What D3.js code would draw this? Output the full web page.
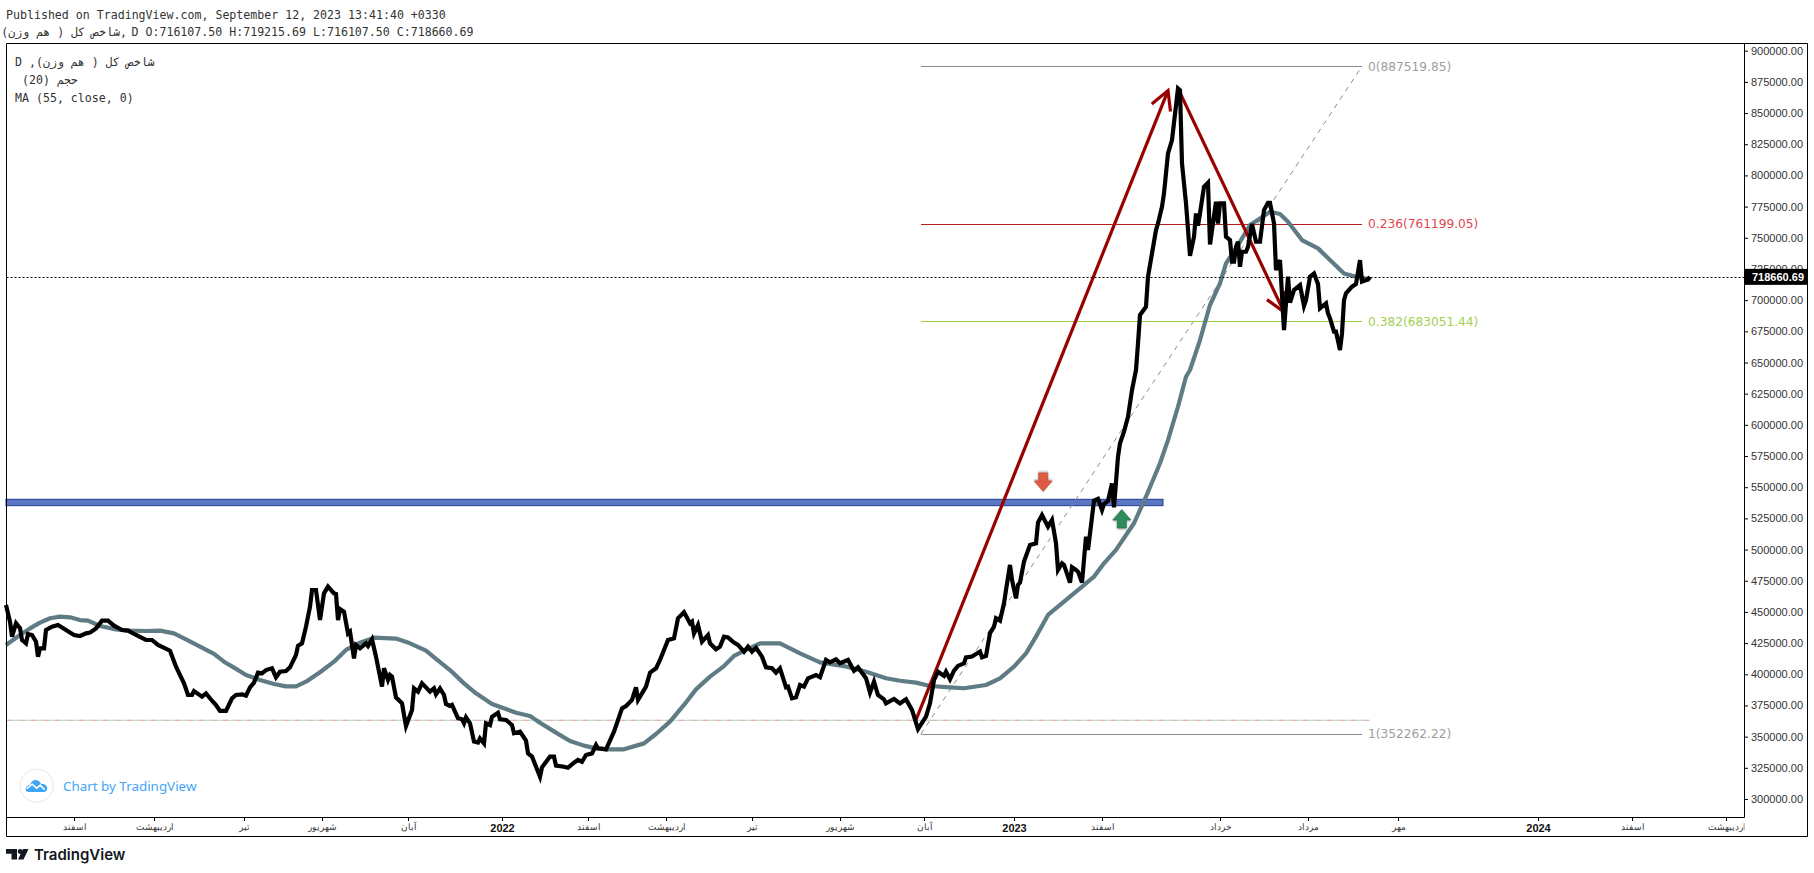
<!DOCTYPE html>
<html>
<head>
<meta charset="utf-8">
<title>chart</title>
<script src="https://cdn.jsdelivr.net/npm/d3@7/dist/d3.min.js"></script>
<style>
  html, body { margin: 0; padding: 0; background: #fff; }
  svg { display: block; }
  .mono { font-family: "DejaVu Sans Mono", monospace; font-size: 11.6px; fill: #333; }
  .yaxis text { font-family: "Liberation Sans", Arial, sans-serif; font-size: 11px; fill: #333; }
  .xaxis text { font-family: "Liberation Sans", Arial, sans-serif; font-size: 8.5px; fill: #333; }
  .xaxis text.year { font-size: 11px; font-weight: bold; fill: #111; }
  .fib { font-family: "DejaVu Sans", sans-serif; font-size: 12.2px; }
</style>
</head>
<body>
<div id="chart"></div>
<script>
// price line, bar number + value
var priceBars = [0,2,3,5,7,8,10,11,13,15,16,17,19,20,23,26,30,34,37,40,42,45,48,51,54,58,61,65,70,73,76,82,85,89,91,93,94,98,100,103,105,107,110,113,115,118,120,122,124,126,128,130,133,135,137,140,142,145,146,148,150,152,153,155,157,159,161,164,165,166,167,169,171,172,174,175,177,180,181,183,185,188,189,191,192,193,195,198,200,203,204,206,208,210,212,214,215,217,219,220,222,223,226,228,229,230,232,234,236,237,239,240,242,243,246,247,250,253,254,257,260,261,263,267,268,272,274,275,279,281,284,286,288,290,293,295,296,300,304,308,310,313,315,316,320,322,325,327,331,334,336,339,342,343,344,346,348,351,352,355,357,359,361,364,366,369,371,373,375,378,380,383,385,387,390,391,393,395,397,399,401,405,407,410,412,415,417,421,424,426,430,432,434,436,439,440,444,447,450,453,456,460,462,464,466,469,470,472,474,476,479,480,483,487,488,490,492,494,495,497,499,500,502,503,505,506,507,509,512,515,516,518,521,523,525,526,528,529,532,533,535,536,538,540,541,544,546,548,549,551,553,554,556,557,559,561,563,565,566,567,570,571,573,575,576,578,579,581,583,586,587,588,590,592,594,595,596,597,599,601,602,605,606,607,609,610,612,613,614,615,616,617,618,620,621,623,625,627,629,631,632,634,635,637,639,641,642,644,647,649,650,652,654,656,657,660,661,662,664,665,667,668,669,670,673,675,677,678,681,682];
var priceValues = [455600,442200,430200,440900,436900,427500,424800,432300,431500,426200,414100,420800,420800,435500,438200,439500,435500,431500,430700,432800,433400,436800,443000,443000,439000,435500,435000,431500,427500,427500,423500,418900,406100,392700,383400,383400,386600,382100,384700,378800,375400,370600,370600,380700,383400,383900,382900,389500,393300,401300,400800,403400,404800,397600,402100,402600,405600,415500,422900,424800,438200,454200,467600,467600,443500,464900,470300,464900,464400,443500,452300,450200,432800,434200,412800,423500,420800,424800,422700,428000,414100,390100,404800,395400,399400,398100,381500,376700,358500,371400,388700,386100,392700,389500,386100,388700,383900,388700,383400,376200,374600,375400,364700,363900,360700,365500,360700,346000,345200,348600,344600,360700,359300,366000,369200,363900,363400,359300,352700,354000,346800,336600,334000,317900,325400,334000,334000,326700,325900,325100,329100,331300,329900,335300,336600,343300,340600,339800,354000,372700,374600,379400,389500,379400,390100,401300,404800,411500,427500,428800,444900,449700,440900,442200,432800,439500,426200,431500,424800,420000,422100,430200,429600,425400,423500,418100,422100,418100,421300,414100,405600,404800,401300,404800,389500,390100,380700,381500,391400,390100,396800,399400,397600,411500,409600,412000,408800,411500,402900,405600,396800,385300,394100,383400,379900,376700,380200,376700,379900,371400,356000,366000,376700,395400,402100,398700,402100,396000,402900,406700,408800,413600,414200,418200,413600,414700,432900,438200,444900,443000,456900,467600,487700,475600,460900,471600,473500,490300,503700,505000,521600,527700,518400,523700,505000,483600,489000,487700,473500,485800,483600,482300,473500,510400,499700,539200,540600,531700,536600,539000,553100,533900,574500,585200,594600,606500,627900,644000,665300,688000,694700,718800,737500,756200,761500,774900,785600,817700,828400,869800,868400,809600,777600,735600,750900,769600,759700,769600,791000,794200,744700,778900,761500,777600,777600,750900,748200,730800,730800,742800,746800,726800,738800,738800,742800,761000,746800,746800,772200,778100,778100,761500,724100,732100,676000,718800,698000,708100,712100,695300,700100,718800,721400,712900,693400,697400,689400,685400,674700,674700,660000,673300,700100,705400,710800,712900,732100,714800,716600,718660.69];

// MA (55, close, 0)
var maBars = [0,7,12,17,22,27,32,37,41,47,55,62,70,77,84,90,97,104,109,114,120,127,134,140,145,150,157,164,170,177,184,195,202,210,215,222,229,235,243,250,255,262,267,275,282,289,295,302,309,319,325,332,339,345,352,359,364,370,377,387,397,407,419,430,440,447,455,462,472,479,490,497,504,510,515,521,529,537,544,549,555,564,570,577,581,584,586,590,592,597,602,607,610,615,622,627,632,637,641,648,656,662,669,675,682];
var maValues = [423500,431500,436800,441400,444900,446200,445700,443500,443000,438700,436000,435000,434700,435000,432800,428000,422100,416300,410100,405300,399400,395400,392200,390300,390300,394100,401600,410100,419500,425400,429400,428600,424800,418900,412300,403400,392700,384700,376200,372200,369200,366600,361200,353200,346500,342800,340600,339800,339800,344600,352100,362000,375400,387900,398100,406600,414700,419500,424800,424800,416800,409600,406600,402100,396800,394800,393300,390600,389500,388800,391400,396800,406100,416800,430200,447600,458300,468900,478300,489000,499700,521100,542400,569200,587800,603900,614500,638600,644000,668000,696100,713400,729500,741500,760200,765500,770900,769000,762900,748200,741500,732100,721400,718800,716600];

// the flat pink/green line
var flatBars = [0, 682];
var flatValue = 363100;

var lastPrice = 718660.69;

// fib retracement tool
var fibLevels = [0, 0.236, 0.382, 1];
var fibPrices = [887519.85, 761199.05, 683051.44, 352262.22];
var fibStroke = ["#8a8a8a", "#b71c1c", "#9ccc44", "#8a8a8a"];
var fibText = ["#9e9e9e", "#e0474c", "#a5cf52", "#9e9e9e"];
var fibBars = [457.5, 678];

// horizontal zone
var zoneBars = [0, 578.5];
var zoneValues = [535200, 540300];

// big red arrows, from -> tip
var upArrowBars = [455, 581];
var upArrowValues = [363500, 868000];
var downArrowBars = [586.5, 639];
var downArrowValues = [868000, 690500];

// the two little signs
var signDownBar = 518.6, signDownValue = 554200;
var signUpBar = 557.9, signUpValue = 524500;

var yTicks = d3.range(300000, 900001, 25000);

var xTickBars = [34,74,119,158,201,248,291,330,373,417,459,504,548,607,651,696,766,813,860];
var xTickLabels = ["اسفند","اردیبهشت","تیر","شهریور","آبان","2022","اسفند","اردیبهشت","تیر","شهریور","آبان","2023","اسفند","خرداد","مرداد","مهر","2024","اسفند","اردیبهشت"];

var width = 1814;
var height = 873;
var plotLeft = 6.5, plotRight = 1744.5, plotTop = 43.5, plotBottom = 817.5;
var frameRight = 1807.5, frameBottom = 836.5;

var svg = d3.select("#chart").append("svg")
    .attr("width", width)
    .attr("height", height);

var x = d3.scaleLinear().domain([0, 869]).range([6, 1744]);
var y = d3.scaleLinear().domain([300000, 900000]).range([799, 50.7]);

// the clip sits in the axis group's own coordinates
var defs = svg.append("defs");
defs.append("clipPath").attr("id", "xclip").append("rect")
    .attr("x", 0).attr("y", -1).attr("width", plotRight).attr("height", 20);

// header text
svg.append("text").attr("class", "mono").attr("x", 6).attr("y", 19)
    .text("Published on TradingView.com, September 12, 2023 13:41:40 +0330");
svg.append("text").attr("class", "mono").attr("x", 127).attr("y", 36)
    .attr("text-anchor", "end")
    .text("شاخص کل ( هم وزن),");
svg.append("text").attr("class", "mono").attr("x", 131.5).attr("y", 36)
    .text("D O:716107.50 H:719215.69 L:716107.50 C:718660.69");

// axes first, the price label goes over them later
var yAxis = svg.append("g").attr("class", "yaxis")
    .attr("transform", "translate(" + (plotRight - 0.5) + ",0)")
    .call(d3.axisRight(y).tickValues(yTicks).tickSize(4).tickPadding(3).tickFormat(d3.format(".2f")));
yAxis.select(".domain").remove();

var xAxis = svg.append("g").attr("class", "xaxis")
    .attr("transform", "translate(0," + (plotBottom - 0.5) + ")")
    .attr("clip-path", "url(#xclip)")
    .call(d3.axisBottom(x).tickValues(xTickBars).tickSize(4).tickPadding(3)
      .tickFormat(function(d, i) { return xTickLabels[i]; }));
xAxis.select(".domain").remove();
xAxis.selectAll("text").attr("class", function(d, i) {
  return /^\d+$/.test(xTickLabels[i]) ? "year" : null;
});

// blue zone
svg.append("rect")
    .attr("x", x(zoneBars[0]))
    .attr("y", y(zoneValues[1]))
    .attr("width", x(zoneBars[1]) - x(zoneBars[0]))
    .attr("height", y(zoneValues[0]) - y(zoneValues[1]))
    .attr("fill", "#5b76c4")
    .attr("stroke", "#1d3a8f")
    .attr("stroke-width", 1);

// flat line, green under pink dashes
svg.append("line")
    .attr("x1", x(flatBars[0])).attr("x2", x(flatBars[1]))
    .attr("y1", y(flatValue)).attr("y2", y(flatValue))
    .attr("stroke", "#a8e2c9").attr("stroke-width", 1);
svg.append("line")
    .attr("x1", x(flatBars[0])).attr("x2", x(flatBars[1]))
    .attr("y1", y(flatValue)).attr("y2", y(flatValue))
    .attr("stroke", "#f6a9a9").attr("stroke-width", 1)
    .attr("stroke-dasharray", "7,5");

// fib
svg.append("line")
    .attr("x1", x(fibBars[0])).attr("y1", y(fibPrices[3]))
    .attr("x2", x(fibBars[1])).attr("y2", y(fibPrices[0]))
    .attr("stroke", "#8c8c8c").attr("stroke-width", 1)
    .attr("stroke-dasharray", "5,5");

svg.append("g").selectAll("line")
    .data(fibPrices)
  .enter().append("line")
    .attr("x1", x(fibBars[0]))
    .attr("x2", x(fibBars[1]))
    .attr("y1", function(d) { return Math.round(y(d)) + 0.5; })
    .attr("y2", function(d) { return Math.round(y(d)) + 0.5; })
    .attr("stroke", function(d, i) { return fibStroke[i]; })
    .attr("stroke-width", 1);

svg.append("g").selectAll("text")
    .data(fibPrices)
  .enter().append("text")
    .attr("class", "fib")
    .attr("x", 1368)
    .attr("y", function(d) { return y(d) + 4.5; })
    .attr("fill", function(d, i) { return fibText[i]; })
    .text(function(d, i) { return fibLevels[i] + "(" + d.toFixed(2) + ")"; });

var line = d3.line()
    .x(function(d) { return x(d[0]); })
    .y(function(d) { return y(d[1]); });

// MA
svg.append("path")
    .datum(d3.zip(maBars, maValues))
    .attr("d", line)
    .attr("fill", "none")
    .attr("stroke", "#5f7c84")
    .attr("stroke-width", 4.2)
    .attr("stroke-linejoin", "round");

// red arrows
function bigArrow(bars, values) {
  var g = svg.append("g")
      .attr("fill", "none")
      .attr("stroke", "#990000")
      .attr("stroke-width", 3.2);
  var x1 = x(bars[0]), y1 = y(values[0]), x2 = x(bars[1]), y2 = y(values[1]);
  g.append("line").attr("x1", x1).attr("y1", y1).attr("x2", x2).attr("y2", y2);
  // barbs are fixed pixel sizes, same as the drawing tool
  var a = Math.atan2(y2 - y1, x2 - x1);
  var size = 21;
  g.append("path").attr("d",
    "M" + (x2 - size * Math.cos(a - 0.5)) + "," + (y2 - size * Math.sin(a - 0.5)) +
    "L" + x2 + "," + y2 +
    "L" + (x2 - size * Math.cos(a + 0.5)) + "," + (y2 - size * Math.sin(a + 0.5)));
}
bigArrow(upArrowBars, upArrowValues);
bigArrow(downArrowBars, downArrowValues);

// price
svg.append("path")
    .datum(d3.zip(priceBars, priceValues))
    .attr("d", line)
    .attr("fill", "none")
    .attr("stroke", "#000")
    .attr("stroke-width", 4.2)
    .attr("stroke-linejoin", "miter")
    .attr("stroke-miterlimit", 4);

// small signs
function sign(bar, value, up, fill, stroke) {
  var dir = up ? 1 : -1;
  svg.append("path")
      .attr("transform", "translate(" + x(bar) + "," + y(value) + ") scale(1," + dir + ")")
      .attr("d", "M0,-9.5L9,1L4.5,1L4.5,9L-4.5,9L-4.5,1L-9,1Z")
      .attr("fill", fill)
      .attr("stroke", stroke)
      .attr("stroke-width", 0.7)
      .style("filter", "drop-shadow(0.5px 1px 1px rgba(0,0,0,0.35))");
}
sign(signDownBar, signDownValue, false, "#dd5b43", "#c94f38");
sign(signUpBar, signUpValue, true, "#2e8b5c", "#24724b");

// last price line
svg.append("line")
    .attr("x1", plotLeft).attr("x2", plotRight)
    .attr("y1", Math.round(y(lastPrice)) + 0.5).attr("y2", Math.round(y(lastPrice)) + 0.5)
    .attr("stroke", "#000").attr("stroke-width", 1)
    .attr("stroke-dasharray", "2,2");

// legend
svg.append("text").attr("class", "mono").attr("x", 15).attr("y", 66)
    .attr("direction", "rtl").attr("text-anchor", "end")
    .text("شاخص کل ( هم وزن), D");
svg.append("text").attr("class", "mono").attr("x", 22).attr("y", 84)
    .attr("direction", "rtl").attr("text-anchor", "end")
    .text("حجم (20)");
svg.append("text").attr("class", "mono").attr("x", 15).attr("y", 102)
    .text("MA (55, close, 0)");

// frame
svg.append("path")
    .attr("d", "M" + plotLeft + "," + plotTop + "H" + frameRight + "V" + frameBottom + "H" + plotLeft + "Z" +
      "M" + plotRight + "," + plotTop + "V" + plotBottom +
      "M" + plotLeft + "," + plotBottom + "H" + plotRight)
    .attr("fill", "none")
    .attr("stroke", "#000")
    .attr("stroke-width", 1);

// last price tag
svg.append("rect")
    .attr("x", plotRight + 0.5)
    .attr("y", y(lastPrice) - 8)
    .attr("width", frameRight - plotRight - 0.5)
    .attr("height", 16)
    .attr("fill", "#000");
svg.append("text")
    .attr("x", 1752)
    .attr("y", y(lastPrice) + 4)
    .attr("fill", "#fff")
    .style("font-family", '"Liberation Sans", Arial, sans-serif')
    .style("font-size", "11px")
    .style("font-weight", "bold")
    .text(d3.format(".2f")(lastPrice));

// chart by tradingview badge
var badge = svg.append("g").attr("transform", "translate(36.7,785.7)");
badge.append("circle").attr("r", 16.5).attr("fill", "#fff").attr("stroke", "#e6e6e6").attr("stroke-width", 1);
badge.append("path")
    .attr("d", "M-10.5,5.5C-12,1.5 -9,-1 -6.5,-1C-5.5,-4 -3,-6 -0.5,-5.5C2,-5.5 3.5,-3.5 4.5,-1.5C7.5,-2 10.5,-0.5 10.5,3C10.5,5 9,6.2 7,6.2L-8,6.2Z")
    .attr("fill", "#3ea6f2");
badge.append("path")
    .attr("d", "M-10,3L-4.5,-1.5L0,2.5L3.5,-0.5L8,4")
    .attr("fill", "none").attr("stroke", "#fff").attr("stroke-width", 1.6);
svg.append("text")
    .attr("x", 63).attr("y", 790.5)
    .attr("fill", "#42a5f5")
    .style("font-family", '"Noto Sans", sans-serif')
    .style("font-size", "13.4px")
    .text("Chart by TradingView");

// bottom logo
svg.append("path")
    .attr("d", "M6,849H17V859.5H11.5V853.7H6Z M22.5,851.5a2.4,2.4 0 1 1 -4.8,0a2.4,2.4 0 1 1 4.8,0Z M28.5,849L23.5,859.5H18L23,849Z")
    .attr("fill", "#131722");
svg.append("text")
    .attr("x", 34).attr("y", 860)
    .attr("fill", "#131722")
    .style("font-family", "Inter, sans-serif")
    .style("font-size", "15px")
    .style("font-weight", 600)
    .text("TradingView");
</script>
</body>
</html>
